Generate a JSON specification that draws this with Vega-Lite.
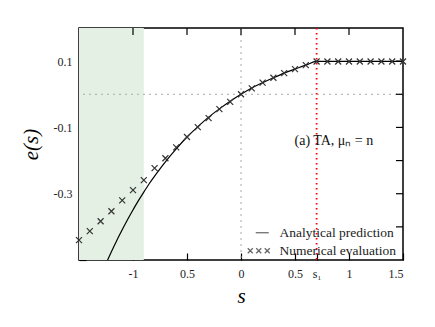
{
  "$schema": "https://vega.github.io/schema/vega-lite/v6.json",
  "width": 324,
  "height": 232,
  "autosize": {"type": "none"},
  "padding": {"left": 79, "top": 28, "right": 32, "bottom": 67},
  "config": {
    "view": {"stroke": "#000", "strokeWidth": 1.5}
  },
  "datasets": {
    "analytic": [
      {"s": -1.25, "e": -0.511}, {"s": -1.2, "e": -0.475}, {"s": -1.15, "e": -0.441},
      {"s": -1.1, "e": -0.409}, {"s": -1.05, "e": -0.378}, {"s": -1.0, "e": -0.349},
      {"s": -0.95, "e": -0.321}, {"s": -0.9, "e": -0.295}, {"s": -0.85, "e": -0.27},
      {"s": -0.8, "e": -0.247}, {"s": -0.75, "e": -0.225}, {"s": -0.7, "e": -0.204},
      {"s": -0.6, "e": -0.165}, {"s": -0.5, "e": -0.129}, {"s": -0.4, "e": -0.098},
      {"s": -0.3, "e": -0.069}, {"s": -0.2, "e": -0.044}, {"s": -0.1, "e": -0.021},
      {"s": 0.0, "e": 0.0}, {"s": 0.1, "e": 0.019}, {"s": 0.2, "e": 0.035},
      {"s": 0.3, "e": 0.05}, {"s": 0.4, "e": 0.064}, {"s": 0.5, "e": 0.076},
      {"s": 0.6, "e": 0.088}, {"s": 0.7, "e": 0.099}, {"s": 1.5, "e": 0.099}
    ],
    "numeric": [
      {"s": -1.5, "e": -0.44}, {"s": -1.4, "e": -0.413}, {"s": -1.3, "e": -0.383},
      {"s": -1.2, "e": -0.353}, {"s": -1.1, "e": -0.32}, {"s": -1.0, "e": -0.289},
      {"s": -0.9, "e": -0.259}, {"s": -0.8, "e": -0.223}, {"s": -0.7, "e": -0.193},
      {"s": -0.6, "e": -0.16}, {"s": -0.5, "e": -0.129}, {"s": -0.4, "e": -0.099},
      {"s": -0.3, "e": -0.072}, {"s": -0.2, "e": -0.045}, {"s": -0.1, "e": -0.023},
      {"s": 0.0, "e": 0.0}, {"s": 0.1, "e": 0.018}, {"s": 0.2, "e": 0.035},
      {"s": 0.3, "e": 0.05}, {"s": 0.4, "e": 0.064}, {"s": 0.5, "e": 0.076},
      {"s": 0.6, "e": 0.088}, {"s": 0.7, "e": 0.099}, {"s": 0.8, "e": 0.099},
      {"s": 0.9, "e": 0.099}, {"s": 1.0, "e": 0.099}, {"s": 1.1, "e": 0.099},
      {"s": 1.2, "e": 0.099}, {"s": 1.3, "e": 0.099}, {"s": 1.4, "e": 0.099},
      {"s": 1.5, "e": 0.099}
    ],
    "xticks": [{"s": -1}, {"s": -0.5}, {"s": 0}, {"s": 0.5}, {"s": 1}],
    "yticks": [{"e": -0.4}, {"e": -0.3}, {"e": -0.2}, {"e": -0.1}, {"e": 0}, {"e": 0.1}],
    "series": [
      {"series": "Analytical prediction"},
      {"series": "Numerical evaluation"}
    ],
    "one": [{}]
  },
  "layer": [
    {
      "data": {"name": "one"},
      "mark": {"type": "rect", "color": "#e4f0e4"},
      "encoding": {
        "x": {"datum": -1.5, "type": "quantitative", "scale": {"domain": [-1.5, 1.5], "nice": false, "zero": false}},
        "x2": {"datum": -0.9},
        "y": {"datum": -0.5, "type": "quantitative", "scale": {"domain": [-0.5, 0.2], "nice": false, "zero": false}},
        "y2": {"datum": 0.2}
      }
    },
    {
      "data": {"name": "one"},
      "mark": {"type": "rule", "color": "#aaaaaa", "strokeDash": [2, 4], "strokeWidth": 1},
      "encoding": {
        "x": {"datum": 0, "type": "quantitative", "scale": {"domain": [-1.5, 1.5], "nice": false, "zero": false}}
      }
    },
    {
      "data": {"name": "one"},
      "mark": {"type": "rule", "color": "#aaaaaa", "strokeDash": [2, 4], "strokeWidth": 1},
      "encoding": {
        "y": {"datum": 0, "type": "quantitative", "scale": {"domain": [-0.5, 0.2], "nice": false, "zero": false}}
      }
    },
    {
      "data": {"name": "one"},
      "mark": {"type": "rule", "color": "#ff0000", "strokeDash": [1.5, 3.5], "strokeWidth": 1.8},
      "encoding": {
        "x": {"datum": 0.7, "type": "quantitative", "scale": {"domain": [-1.5, 1.5], "nice": false, "zero": false}}
      }
    },
    {
      "data": {"name": "xticks"},
      "mark": {"type": "tick", "orient": "vertical", "size": 14, "thickness": 1.2, "color": "#000", "opacity": 1, "clip": true},
      "encoding": {
        "x": {"field": "s", "type": "quantitative", "scale": {"domain": [-1.5, 1.5], "nice": false, "zero": false}},
        "y": {"datum": 0.2, "type": "quantitative", "scale": {"domain": [-0.5, 0.2], "nice": false, "zero": false}}
      }
    },
    {
      "data": {"name": "yticks"},
      "mark": {"type": "tick", "orient": "horizontal", "size": 14, "thickness": 1.2, "color": "#000", "opacity": 1, "clip": true},
      "encoding": {
        "x": {"datum": 1.5, "type": "quantitative", "scale": {"domain": [-1.5, 1.5], "nice": false, "zero": false}},
        "y": {"field": "e", "type": "quantitative", "scale": {"domain": [-0.5, 0.2], "nice": false, "zero": false}}
      }
    },
    {
      "data": {"name": "analytic"},
      "mark": {"type": "line", "color": "#000", "strokeWidth": 1.2, "clip": true, "interpolate": "monotone"},
      "encoding": {
        "x": {
          "field": "s", "type": "quantitative",
          "scale": {"domain": [-1.5, 1.5], "nice": false, "zero": false},
          "axis": {
            "orient": "bottom",
            "domain": false,
            "grid": false,
            "offset": -7,
            "tickSize": 7,
            "tickColor": "#000",
            "tickWidth": 1.2,
            "title": "s",
            "titleFont": "Liberation Serif",
            "titleFontSize": 21,
            "titleFontStyle": "italic",
            "titleFontWeight": "normal",
            "titleColor": "#000",
            "titlePadding": 6,
            "values": [-1.5, -1, -0.5, 0, 0.5, 0.7, 1, 1.5],
            "labelFont": "Liberation Serif",
            "labelFontSize": 12,
            "labelColor": "#222",
            "labelPadding": 8,
            "labelExpr": "datum.value == 0.7 ? 's₁' : datum.value < -1.4 ? '' : datum.value == -0.5 ? '0.5' : replace(format(datum.value, '~g'), '\u2212', '-')"
          }
        },
        "y": {
          "field": "e", "type": "quantitative",
          "scale": {"domain": [-0.5, 0.2], "nice": false, "zero": false},
          "axis": {
            "orient": "left",
            "domain": false,
            "grid": false,
            "offset": -7,
            "tickSize": 7,
            "tickColor": "#000",
            "tickWidth": 1.2,
            "title": "e(s)",
            "titleFont": "Liberation Serif",
            "titleFontSize": 21,
            "titleFontStyle": "italic",
            "titleFontWeight": "normal",
            "titleColor": "#000",
            "titlePadding": 12,
            "values": [-0.5, -0.4, -0.3, -0.2, -0.1, 0, 0.1, 0.2],
            "labelFont": "Liberation Serif",
            "labelFontSize": 12,
            "labelColor": "#222",
            "labelPadding": 7,
            "labelExpr": "datum.value < -0.45 ? '' : replace(format(datum.value, '.1~f'), '\u2212', '-')"
          }
        }
      }
    },
    {
      "data": {"name": "numeric"},
      "mark": {"type": "point", "shape": "M-1,-1L1,1M-1,1L1,-1", "size": 36, "filled": false, "color": "#333", "strokeWidth": 1.2, "opacity": 1},
      "encoding": {
        "x": {"field": "s", "type": "quantitative", "scale": {"domain": [-1.5, 1.5], "nice": false, "zero": false}},
        "y": {"field": "e", "type": "quantitative", "scale": {"domain": [-0.5, 0.2], "nice": false, "zero": false}}
      }
    },
    {
      "data": {"name": "one"},
      "mark": {"type": "text", "text": "(a) TA, μₙ = n", "font": "Liberation Serif", "fontSize": 14, "align": "center", "baseline": "middle", "color": "#111"},
      "encoding": {
        "x": {"datum": 0.86, "type": "quantitative", "scale": {"domain": [-1.5, 1.5], "nice": false, "zero": false}},
        "y": {"datum": -0.14, "type": "quantitative", "scale": {"domain": [-0.5, 0.2], "nice": false, "zero": false}}
      }
    },
    {
      "data": {"name": "series"},
      "transform": [{"filter": "false"}],
      "mark": {"type": "point", "filled": false, "color": "#222", "strokeWidth": 1.2},
      "encoding": {
        "shape": {
          "field": "series", "type": "nominal",
          "scale": {
            "domain": ["Analytical prediction", "Numerical evaluation"],
            "range": ["M-0.6,0H2", "M-2.2,-0.5L-1.2,0.5M-2.2,0.5L-1.2,-0.5M-0.5,-0.5L0.5,0.5M-0.5,0.5L0.5,-0.5M1.2,-0.5L2.2,0.5M1.2,0.5L2.2,-0.5"]
          },
          "legend": {
            "orient": "none",
            "legendX": 173,
            "legendY": 198,
            "title": null,
            "padding": 0,
            "labelFont": "Liberation Serif",
            "labelFontSize": 13.5,
            "labelColor": "#222",
            "symbolSize": 100,
            "labelOffset": 14,
            "rowPadding": 3,
            "symbolStrokeWidth": 1.2,
            "symbolStrokeColor": "#222",
            "symbolFillColor": "transparent"
          }
        }
      }
    }
  ]
}
